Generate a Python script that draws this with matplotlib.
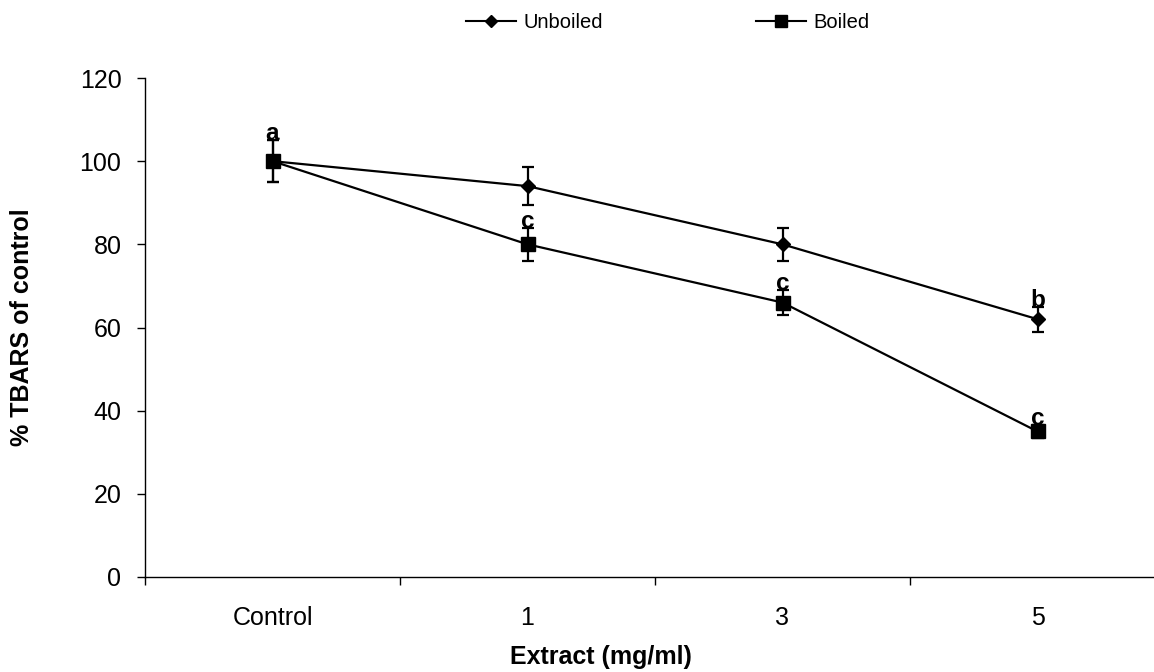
import matplotlib
matplotlib.use("Agg")
import matplotlib.pyplot as plt
from matplotlib.lines import Line2D
import numpy as np

plt.rcParams['font.family'] = ['Liberation Sans', 'DejaVu Sans']

categories = ["Control", "1", "3", "5"]
unboiled = [100, 94, 80, 62]
unboiled_err = [5, 4.6, 4, 3]
boiled = [100, 80, 66, 35]
boiled_err = [5, 4, 3, 1.5]
# significance letters: (category index, series, letter)
letters = [(0, "u", "a"), (1, "b", "c"), (2, "b", "c"), (3, "u", "b"), (3, "b", "c")]

fig = plt.figure(figsize=(11.54, 6.72), dpi=100)
ax = fig.add_axes([145/1154, 95/672, 1020/1154, 499/672])

x = np.arange(len(categories))
ekw = dict(color='black', lw=1.6, capsize=4.5, capthick=1.6, elinewidth=1.6)
ax.errorbar(x, unboiled, yerr=unboiled_err, marker='D', ms=7.5, **ekw)
ax.errorbar(x, boiled, yerr=boiled_err, marker='s', ms=10, **ekw)

for i, s, t in letters:
    v = unboiled[i] + unboiled_err[i] if s == "u" else boiled[i] + boiled_err[i]
    ax.text(x[i], v, t, ha='center', va='baseline', fontsize=17.5, fontweight='bold')

ax.set_xlim(-0.5, 3.5)
ax.set_ylim(0, 120)
ax.set_yticks(np.arange(0, 121, 20))
ax.set_xticks(x)
ax.set_xticklabels(categories)
ax.set_xticks(np.arange(-0.5, 3.6, 1), minor=True)
ax.tick_params(axis='x', which='major', length=0, labelsize=18, pad=21)
ax.tick_params(axis='x', which='minor', length=6, width=1)
ax.tick_params(axis='y', length=6, width=1, labelsize=18, pad=11)
for sp in ['top', 'right']:
    ax.spines[sp].set_visible(False)
for sp in ['left', 'bottom']:
    ax.spines[sp].set_linewidth(1.0)
ax.set_xlabel("Extract (mg/ml)", fontsize=18, fontweight='bold')
ax.set_ylabel("% TBARS of control", fontsize=18, fontweight='bold')
ax.xaxis.set_label_coords((601 - 145) / 1020, -(657 - 577) / 499)
ax.yaxis.set_label_coords((22 - 145) / 1020, 0.5)
ax.xaxis.label.set_va('center')
ax.yaxis.label.set_va('center')

handles = [Line2D([], [], color='black', lw=1.5, marker='D', ms=6.5),
           Line2D([], [], color='black', lw=1.5, marker='s', ms=8.5)]
fig.legend(handles=handles, labels=["Unboiled", "Boiled"], loc='center',
           bbox_to_anchor=(0.5784, 0.966), ncol=2, frameon=False, fontsize=14.5,
           columnspacing=7.6, handlelength=2.5, handletextpad=0.35)

fig.savefig("out.png", dpi=100)
